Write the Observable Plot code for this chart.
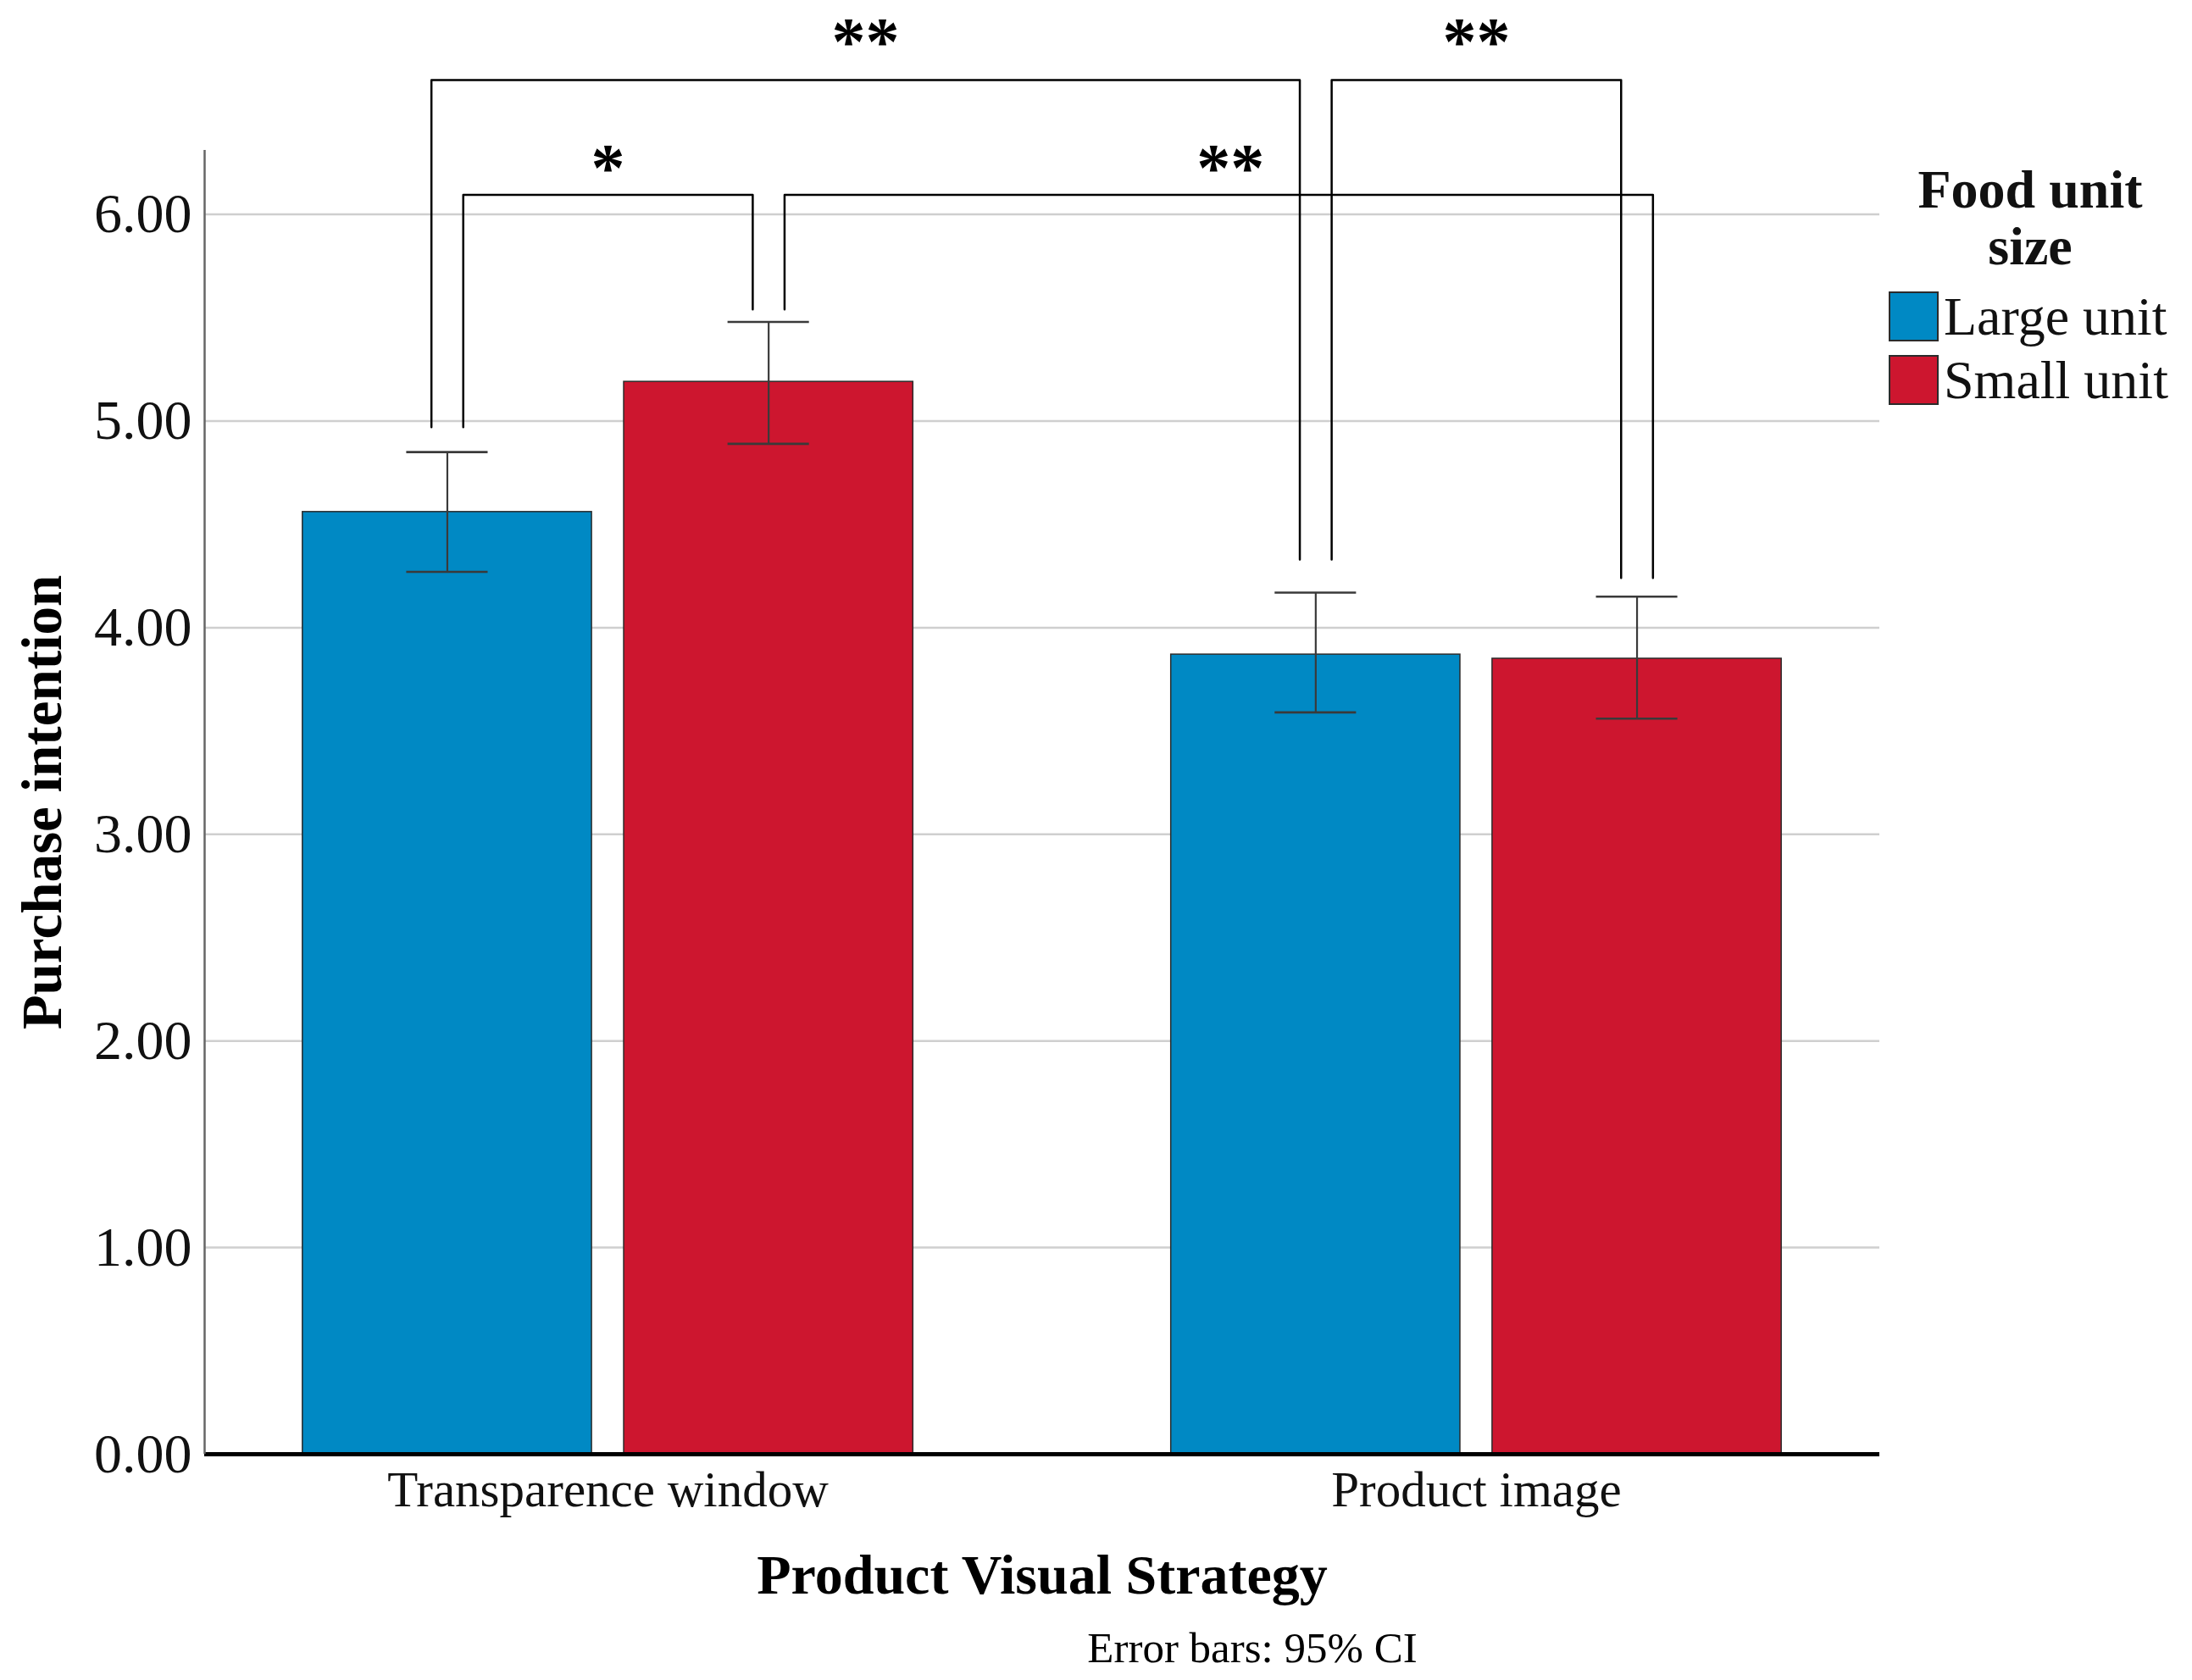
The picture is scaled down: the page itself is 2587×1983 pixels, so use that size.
<!DOCTYPE html>
<html><head><meta charset="utf-8">
<script src="https://cdn.jsdelivr.net/npm/d3@7"></script>
<script src="https://cdn.jsdelivr.net/npm/@observablehq/plot@0.6"></script>
<style>
body{margin:0;background:#fff;}
#wrap{position:relative;width:2587px;height:1983px;font-family:"Liberation Serif","Times New Roman",serif;color:#111;}
#legend .lt{position:absolute;left:2228px;top:190px;width:336px;text-align:center;font-weight:bold;font-size:64px;line-height:67px;}
#legend .sw{position:absolute;left:2229px;width:59px;height:59px;box-sizing:border-box;border:2px solid #2b2b2b;}
#legend .lb{position:absolute;left:2294px;font-size:64px;line-height:59px;white-space:nowrap;}
</style></head>
<body><div id="wrap"><div id="chart"></div><div id="legend"></div></div>
<script>
// ---- data ----
const groups = ["Transparence window", "Product image"];
const units = ["Large unit", "Small unit"];
const unitColors = ["#0089c4", "#cd162f"];
const largeMean = [4.56, 3.87];
const smallMean = [5.19, 3.85];
const largeLow = [4.27, 3.59];
const largeHigh = [4.85, 4.17];
const smallLow = [4.89, 3.56];
const smallHigh = [5.48, 4.15];
const yTicks = [0, 1, 2, 3, 4, 5, 6];
const yTop = 6.31;
// significance brackets (bar index: 0 TW-Large, 1 TW-Small, 2 PI-Large, 3 PI-Small)
const bracketFromBar = [0, 0, 1, 2];
const bracketToBar = [2, 1, 3, 3];
const bracketFromSide = [-1, 1, 1, 1];
const bracketToSide = [-1, -1, 1, -1];
const bracketLevel = [6.65, 6.095, 6.095, 6.65];
const bracketLabel = ["**", "*", "**", "**"];
const bracketLabelY = [6.83, 6.22, 6.22, 6.83];
const bracketLabelShift = [0, 0, 0.007, 0];
const legBase = [4.97, 5.54, 4.33, 4.24];

// ---- layout via band scales ----
const gBand = d3.scaleBand().domain(groups).range([0, 1]).paddingInner(0.297).paddingOuter(0.113);
const uBand = d3.scaleBand().domain(units).range([0, gBand.bandwidth()]).paddingInner(0.1);
const legOffset = 0.0095;
const capHalf = 0.0243;

const bars = [];
groups.forEach((g, gi) => {
  units.forEach((u, ui) => {
    const x1 = gBand(g) + uBand(u);
    const x2 = x1 + uBand.bandwidth();
    bars.push({
      group: g, unit: u, x1, x2, xc: (x1 + x2) / 2,
      mean: ui === 0 ? largeMean[gi] : smallMean[gi],
      lo: ui === 0 ? largeLow[gi] : smallLow[gi],
      hi: ui === 0 ? largeHigh[gi] : smallHigh[gi]
    });
  });
});
const caps = bars.flatMap(b => [
  {x1: b.xc - capHalf, x2: b.xc + capHalf, v: b.lo},
  {x1: b.xc - capHalf, x2: b.xc + capHalf, v: b.hi}
]);
const bracketPts = [];
const stars = [];
bracketFromBar.forEach((a, i) => {
  const b = bracketToBar[i];
  const xa = bars[a].xc + bracketFromSide[i] * legOffset;
  const xb = bars[b].xc + bracketToSide[i] * legOffset;
  bracketPts.push({id: i, x: xa, y: legBase[a]}, {id: i, x: xa, y: bracketLevel[i]},
                  {id: i, x: xb, y: bracketLevel[i]}, {id: i, x: xb, y: legBase[b]});
  stars.push({x: (xa + xb) / 2 + bracketLabelShift[i], y: bracketLabelY[i], t: bracketLabel[i]});
});
const groupCenters = groups.map(g => gBand(g) + gBand.bandwidth() / 2);
const centerName = new Map(groupCenters.map((c, i) => [c, groups[i]]));

const chart = Plot.plot({
  width: 2587, height: 1983,
  marginLeft: 241, marginRight: 369, marginTop: 177, marginBottom: 267,
  x: {domain: [0, 1], axis: null},
  y: {domain: [0, yTop], axis: null},
  color: {domain: units, range: unitColors},
  style: {fontFamily: "'Liberation Serif', 'Times New Roman', serif", background: "white", color: "#111"},
  marks: [
    Plot.ruleY(yTicks.filter(d => d > 0), {stroke: "#cfcfcf", strokeWidth: 2.5}),
    Plot.rectY(bars, {x1: "x1", x2: "x2", y1: 0, y2: "mean", fill: "unit", stroke: "#2b2b2b", strokeWidth: 1.5}),
    Plot.ruleX(bars, {x: "xc", y1: "lo", y2: "hi", stroke: "#3a3a3a", strokeWidth: 2.2}),
    Plot.ruleY(caps, {y: "v", x1: "x1", x2: "x2", stroke: "#3a3a3a", strokeWidth: 2.6}),
    Plot.ruleY([0], {stroke: "black", strokeWidth: 5}),
    Plot.ruleX([0], {stroke: "#666", strokeWidth: 2.5}),
    Plot.axisY({ticks: yTicks, tickFormat: d => d.toFixed(2), tickSize: 0, tickPadding: 15, fontSize: 66, label: null}),
    Plot.axisX({ticks: groupCenters, tickFormat: d => centerName.get(d), tickSize: 0, tickPadding: 20, fontSize: 59, label: null}),
    Plot.line(bracketPts, {x: "x", y: "y", z: "id", stroke: "black", strokeWidth: 2.5}),
    Plot.text(stars, {x: "x", y: "y", text: "t", fontSize: 80, fontWeight: "bold", fill: "black"}),
    Plot.text(["Purchase intention"], {frameAnchor: "left", textAnchor: "middle", dx: -191, rotate: -90, fontSize: 67, fontWeight: "bold", fill: "black"}),
    Plot.text(["Product Visual Strategy"], {frameAnchor: "bottom", dy: 164, fontSize: 66, fontWeight: "bold", fill: "black"}),
    Plot.text(["Error bars: 95% CI"], {frameAnchor: "bottom", dx: 248, dy: 245, fontSize: 51, fill: "black"})
  ]
});
document.getElementById("chart").append(chart);

// legend
const legend = document.getElementById("legend");
const title = document.createElement("div");
title.className = "lt";
title.innerHTML = "Food unit<br>size";
legend.append(title);
units.forEach((u, i) => {
  const top = 344 + i * 75;
  const sw = document.createElement("div");
  sw.className = "sw";
  sw.style.top = top + "px";
  sw.style.background = unitColors[i];
  const lb = document.createElement("div");
  lb.className = "lb";
  lb.style.top = top + "px";
  lb.textContent = u;
  legend.append(sw, lb);
});
</script>
</body></html>
